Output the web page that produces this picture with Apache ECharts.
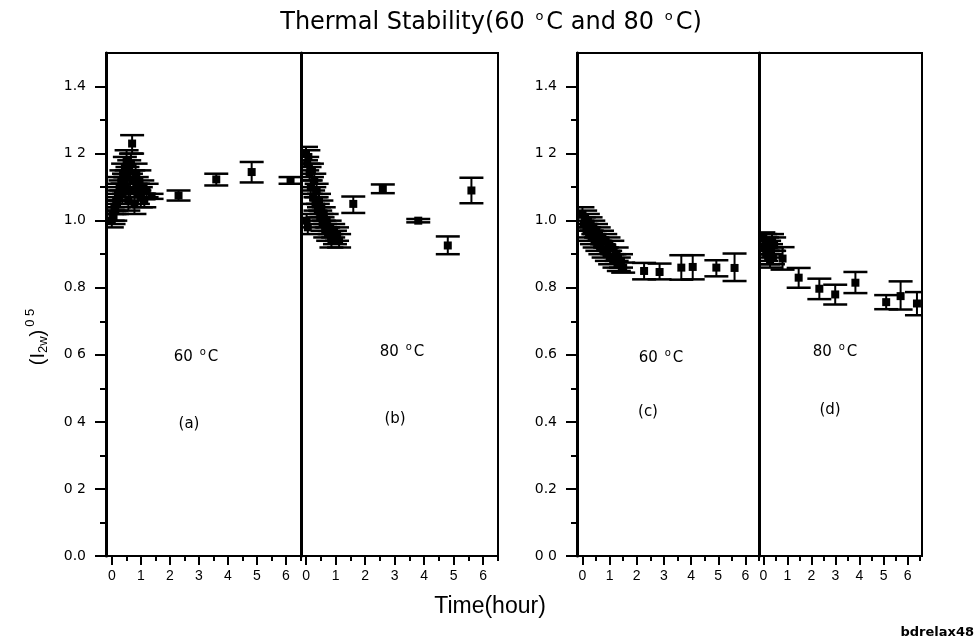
<!DOCTYPE html>
<html>
<head>
<meta charset="utf-8">
<script src="https://cdn.jsdelivr.net/npm/echarts@6/dist/echarts.min.js"></script>
<style>html,body{margin:0;padding:0;background:#fff}#c{width:980px;height:642px}</style>
</head>
<body>
<div id="c"></div>
<script>
// ---- data: [time(hour), value, errLow, errHigh] ----
const panelA = [
  [0.00,1.00,0.98,1.02],[0.03,1.02,1.00,1.04],[0.06,1.01,0.99,1.03],[0.09,1.04,1.02,1.06],
  [0.12,1.03,1.00,1.06],[0.15,1.06,1.03,1.09],[0.18,1.05,1.02,1.08],[0.21,1.08,1.05,1.11],
  [0.24,1.07,1.04,1.10],[0.27,1.10,1.07,1.13],[0.30,1.09,1.06,1.12],[0.33,1.12,1.09,1.15],
  [0.36,1.08,1.05,1.11],[0.39,1.14,1.11,1.17],[0.42,1.11,1.08,1.14],[0.45,1.16,1.13,1.19],
  [0.48,1.10,1.07,1.13],[0.51,1.18,1.15,1.21],[0.54,1.13,1.10,1.16],[0.57,1.06,1.03,1.09],
  [0.60,1.15,1.12,1.18],[0.63,1.09,1.06,1.12],[0.66,1.17,1.14,1.20],[0.70,1.23,1.20,1.255],
  [0.74,1.12,1.09,1.15],[0.78,1.05,1.02,1.08],[0.82,1.14,1.11,1.17],[0.86,1.10,1.07,1.13],
  [0.90,1.08,1.05,1.11],[0.95,1.12,1.09,1.15],[1.00,1.07,1.04,1.10],[1.05,1.10,1.08,1.12],
  [1.12,1.06,1.04,1.08],[1.20,1.09,1.07,1.11],
  [1.37,1.072,1.065,1.08],[2.30,1.075,1.06,1.09],[3.60,1.123,1.105,1.14],
  [4.82,1.145,1.114,1.175],[6.16,1.12,1.11,1.13]
];
const panelB = [
  [0.00,1.20,1.18,1.22],[0.02,1.00,0.98,1.02],[0.04,1.17,1.15,1.19],[0.06,0.98,0.96,1.00],
  [0.08,1.19,1.17,1.21],[0.12,1.14,1.12,1.16],[0.16,1.10,1.08,1.12],[0.20,1.15,1.13,1.17],
  [0.24,1.07,1.05,1.09],[0.28,1.12,1.10,1.14],[0.32,1.05,1.03,1.07],[0.36,1.09,1.07,1.11],
  [0.40,1.03,1.01,1.05],[0.44,1.06,1.04,1.08],[0.48,1.01,0.99,1.03],[0.52,1.04,1.02,1.06],
  [0.56,0.99,0.97,1.01],[0.60,1.02,1.00,1.04],[0.65,0.97,0.95,0.99],[0.70,1.00,0.98,1.02],
  [0.75,0.96,0.94,0.98],[0.80,0.98,0.96,1.00],[0.86,0.94,0.92,0.96],[0.92,0.97,0.95,0.99],
  [0.98,0.95,0.93,0.97],[1.05,0.96,0.94,0.98],[1.12,0.94,0.92,0.96],
  [1.60,1.05,1.023,1.072],[2.60,1.095,1.082,1.108],
  [3.80,1.00,0.995,1.005],[4.80,0.926,0.90,0.953],[5.60,1.09,1.052,1.128]
];
const panelC = [
  [0.00,1.02,1.00,1.04],[0.05,0.99,0.97,1.01],[0.10,1.01,0.99,1.03],[0.15,0.97,0.95,0.99],
  [0.20,1.00,0.98,1.02],[0.25,0.96,0.94,0.98],[0.30,0.99,0.97,1.01],[0.35,0.95,0.93,0.97],
  [0.40,0.98,0.96,1.00],[0.45,0.94,0.92,0.96],[0.50,0.97,0.95,0.99],[0.55,0.93,0.91,0.95],
  [0.60,0.96,0.94,0.98],[0.66,0.92,0.90,0.94],[0.72,0.95,0.93,0.97],[0.78,0.91,0.89,0.93],
  [0.84,0.94,0.92,0.96],[0.90,0.90,0.88,0.92],[0.96,0.93,0.91,0.95],[1.02,0.89,0.87,0.91],
  [1.10,0.92,0.90,0.94],[1.18,0.88,0.86,0.90],[1.26,0.90,0.88,0.92],[1.34,0.87,0.85,0.89],
  [1.42,0.88,0.86,0.90],[1.50,0.86,0.845,0.875],[2.27,0.85,0.825,0.874],[2.84,0.847,0.825,0.872],
  [3.64,0.86,0.824,0.897],[4.06,0.862,0.825,0.897],[4.93,0.86,0.834,0.882],[5.60,0.859,0.82,0.902]
];
const panelD = [
  [0.00,0.95,0.93,0.965],[0.04,0.92,0.90,0.94],[0.08,0.94,0.92,0.96],[0.12,0.90,0.88,0.92],
  [0.16,0.93,0.91,0.95],[0.20,0.89,0.87,0.91],[0.24,0.92,0.90,0.94],[0.28,0.88,0.86,0.90],
  [0.32,0.91,0.89,0.93],[0.36,0.94,0.92,0.96],[0.40,0.89,0.87,0.91],[0.45,0.93,0.91,0.95],
  [0.80,0.887,0.854,0.921],[1.47,0.83,0.80,0.859],[2.33,0.797,0.766,0.827],
  [2.99,0.78,0.75,0.809],[3.83,0.815,0.784,0.847],[5.11,0.757,0.736,0.778],
  [5.71,0.775,0.735,0.819],[6.39,0.753,0.718,0.787]
];
// ---- tick labels ----
const xTicks = [0,1,2,3,4,5,6];
const xMinorTicks = [0.5,1.5,2.5,3.5,4.5,5.5,6.5];
const yTicks = [0,0.2,0.4,0.6,0.8,1.0,1.2,1.4];
const yMinorTicks = [0.1,0.3,0.5,0.7,0.9,1.1,1.3];
const yLabelsLeft = ['0.0','0 2','0 4','0 6','0.8','1.0','1 2','1.4'];
const yLabelsRight = ['0 0','0.2','0.4','0.6','0.8','1.0','1 2','1.4'];

const panels = [
  {data: panelA, left: 106, width: 195, xmin: -0.2, xmax: 6.52, ylab: yLabelsLeft},
  {data: panelB, left: 301, width: 197, xmin: -0.17, xmax: 6.5, ylab: null},
  {data: panelC, left: 577, width: 182, xmin: -0.2, xmax: 6.5, ylab: yLabelsRight},
  {data: panelD, left: 759, width: 163, xmin: -0.18, xmax: 6.6, ylab: null}
];
const TOP = 53, HEIGHT = 503;
const FONT = 'Liberation Sans, Arial, sans-serif';
const WIDE = 'DejaVu Sans, sans-serif';

function renderErr(params, api) {
  const x = api.value(0), y = api.value(1), lo = api.value(2), hi = api.value(3);
  const p = api.coord([x, y]), pl = api.coord([x, lo]), ph = api.coord([x, hi]);
  const hw = 12, ms = 4;
  const st = {stroke: '#000', lineWidth: 2.5};
  return {type: 'group', children: [
    {type: 'line', shape: {x1: p[0], y1: pl[1], x2: p[0], y2: ph[1]}, style: {stroke: '#000', lineWidth: 2}},
    {type: 'line', shape: {x1: p[0] - hw, y1: pl[1], x2: p[0] + hw, y2: pl[1]}, style: st},
    {type: 'line', shape: {x1: p[0] - hw, y1: ph[1], x2: p[0] + hw, y2: ph[1]}, style: st},
    {type: 'rect', shape: {x: p[0] - ms, y: p[1] - ms, width: 2 * ms, height: 2 * ms}, style: {fill: '#000'}}
  ]};
}

const grid = [], xAxis = [], yAxis = [], series = [];
panels.forEach((pn, i) => {
  grid.push({left: pn.left, top: TOP, width: pn.width, height: HEIGHT, show: true,
    borderColor: '#000', borderWidth: 2, backgroundColor: 'transparent'});
  xAxis.push({gridIndex: i, type: 'value', min: pn.xmin, max: pn.xmax, position: 'bottom',
    axisLine: {show: true, onZero: false, lineStyle: {color: '#000', width: 2}},
    axisTick: {show: true, inside: false, length: 9, customValues: xTicks, lineStyle: {color: '#000', width: 2}},
    axisLabel: {show: true, customValues: xTicks, color: '#000', fontSize: 14, fontFamily: FONT, margin: 13},
    splitLine: {show: false}});
  xAxis.push({gridIndex: i, type: 'value', min: pn.xmin, max: pn.xmax, position: 'bottom',
    axisLine: {show: false, onZero: false},
    axisTick: {show: true, inside: false, length: 5, customValues: xMinorTicks, lineStyle: {color: '#000', width: 2}},
    axisLabel: {show: false}, splitLine: {show: false}});
  if (pn.ylab) {
    const labs = pn.ylab;
    yAxis.push({gridIndex: i, type: 'value', min: 0, max: 1.5, position: 'left',
      axisLine: {show: true, onZero: false, lineStyle: {color: '#000', width: 3}},
      axisTick: {show: true, inside: false, length: 11, customValues: yTicks, lineStyle: {color: '#000', width: 2}},
      axisLabel: {show: true, customValues: yTicks, color: '#000', fontSize: 14, fontFamily: WIDE, margin: 20,
        formatter: v => labs[Math.round(v / 0.2)]},
      splitLine: {show: false}});
    yAxis.push({gridIndex: i, type: 'value', min: 0, max: 1.5, position: 'left',
      axisLine: {show: false, onZero: false},
      axisTick: {show: true, inside: false, length: 6, customValues: yMinorTicks, lineStyle: {color: '#000', width: 2}},
      axisLabel: {show: false}, splitLine: {show: false}});
  } else {
    yAxis.push({gridIndex: i, type: 'value', min: 0, max: 1.5, position: 'left',
      axisLine: {show: true, onZero: false, lineStyle: {color: '#000', width: 3}},
      axisTick: {show: false}, axisLabel: {show: false}, splitLine: {show: false}});
  }
  series.push({type: 'custom', xAxisIndex: 2 * i, yAxisIndex: yAxis.length - (pn.ylab ? 2 : 1),
    renderItem: renderErr, data: pn.data, clip: true, silent: true});
});

const supRich = {
  n: {fontSize: 15, fontFamily: WIDE, fill: '#000'},
  s: {fontSize: 10, fontFamily: WIDE, fill: '#000', padding: [0, 2, 9, 2]}
};
function note(text, x, y) {
  return {type: 'text', x: x, y: y, style: {text: text, rich: supRich, fill: '#000', fontSize: 15,
    fontFamily: WIDE, align: 'center', verticalAlign: 'middle'}};
}

const option = {
  backgroundColor: '#fff',
  animation: false,
  grid, xAxis, yAxis, series,
  graphic: [
    {type: 'text', x: 491, y: 23, style: {
      text: '{t|Thermal Stability(60 }{s|o}{t|C and 80 }{s|o}{t|C)}',
      rich: {t: {fontSize: 24, fontFamily: WIDE, fill: '#000'},
             s: {fontSize: 13, fontFamily: WIDE, fill: '#000', padding: [0, 3, 13, 3]}},
      align: 'center', verticalAlign: 'middle'}},
    {type: 'text', x: 490, y: 607, style: {text: 'Time(hour)', fontSize: 23, fontFamily: FONT, fill: '#000',
      align: 'center', verticalAlign: 'middle'}},
    {type: 'text', x: 974, y: 633, style: {text: 'bdrelax48', fontSize: 13, fontWeight: 'bold',
      fontFamily: WIDE, fill: '#000', align: 'right', verticalAlign: 'middle'}},
    {type: 'text', x: 38, y: 337, rotation: Math.PI / 2, style: {
      text: '{n|(I}{b|2w}{n|)}{s|0 5}',
      rich: {n: {fontSize: 20, fontFamily: FONT, fill: '#000'},
             b: {fontSize: 13, fontFamily: FONT, fill: '#000', padding: [11, 0, 0, 0]},
             s: {fontSize: 13, fontFamily: FONT, fill: '#000', padding: [0, 0, 15, 3]}},
      align: 'center', verticalAlign: 'middle'}},
    note('{n|60 }{s|o}{n|C}', 196, 357),
    note('{n|(a)}', 189, 424),
    note('{n|80 }{s|o}{n|C}', 402, 352),
    note('{n|(b)}', 395, 419),
    note('{n|60 }{s|o}{n|C}', 661, 358),
    note('{n|(c)}', 648, 412),
    note('{n|80 }{s|o}{n|C}', 835, 352),
    note('{n|(d)}', 830, 410)
  ]
};
const chart = echarts.init(document.getElementById('c'), null, {renderer: 'canvas'});
chart.setOption(option);
</script>
</body>
</html>
